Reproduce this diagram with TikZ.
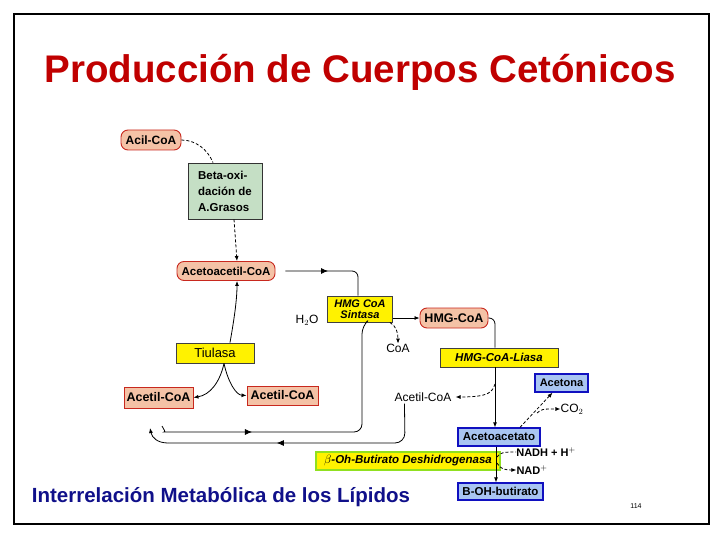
\documentclass[tikz,border=0pt]{standalone}
\usepackage{fontspec}
\setmainfont{Liberation Sans}
\usetikzlibrary{arrows.meta,calc,decorations.markings}
\definecolor{salm}{HTML}{F4C2A6}
\definecolor{redb}{HTML}{C8281E}
\definecolor{lblue}{HTML}{A9C5F2}
\definecolor{dblue}{HTML}{1010C0}
\definecolor{lgreen}{HTML}{C5DFC5}
\definecolor{titred}{HTML}{C00000}
\definecolor{navy}{HTML}{10108A}
\definecolor{ygreen}{HTML}{90E020}
\tikzset{
  pill/.style={rounded corners=7pt, fill=salm, draw=redb, line width=0.9pt, inner sep=0pt, font=\bfseries\fontsize{12}{14}\selectfont},
  sbox/.style={fill=salm, draw=redb, line width=0.9pt, inner sep=0pt, font=\bfseries\fontsize{12.5}{14}\selectfont},
  ybox/.style={fill=yellow, draw=black!75, line width=0.8pt, inner sep=0pt},
  bbox/.style={fill=lblue, draw=dblue, line width=1.3pt, inner sep=0pt, font=\bfseries\fontsize{11.5}{13}\selectfont},
  gbox/.style={fill=lgreen, draw=black!80, line width=0.8pt, inner sep=0pt},
  lbl/.style={inner sep=0pt, font=\fontsize{12}{13}\selectfont},
  conn/.style={line width=0.8pt},
  arr/.style={conn, -{Latex[length=5pt,width=4pt]}},
  dconn/.style={conn, densely dashed},
  darr/.style={dconn, -{Latex[length=5pt,width=4pt]}},
  midarr/.style={conn, postaction=decorate, decoration={markings, mark=at position #1 with {\arrow{Latex[length=7pt,width=6pt]}}}},
}
\begin{document}
\begin{tikzpicture}[x=1pt,y=-1pt]
\useasboundingbox (0,0) rectangle (720,540);
\draw[line width=2pt] (14,14) rectangle (709,524);
% title
\node[text=titred, font=\bfseries\fontsize{38.5}{40}\selectfont, inner sep=0pt] (title) at (360,72) {Producción de Cuerpos Cetónicos};
% bottom caption
\node[text=navy, font=\bfseries\fontsize{20.5}{24}\selectfont, inner sep=0pt] (caption) at (221,497) {Interrelación Metabólica de los Lípidos};
\node[font=\fontsize{7}{8}\selectfont, inner sep=0pt] (pagenum) at (636,506) {114};

% nodes
\node[pill, minimum width=60pt, minimum height=20pt] (acil) at (151,140) {Acil-CoA};
\node[gbox, minimum width=74pt, minimum height=56pt, align=left, font=\bfseries\fontsize{11.5}{16}\selectfont] (beta) at (225,191) {Beta-oxi-\\dación de\\A.Grasos};
\node[pill, minimum width=98pt, minimum height=19pt, font=\bfseries\fontsize{11.5}{13}\selectfont] (acetoacetil) at (226,271) {Acetoacetil-CoA};
\node[ybox, minimum width=65pt, minimum height=26pt, align=center, font=\bfseries\itshape\fontsize{11}{11.5}\selectfont] (sintasa) at (360,309) {HMG CoA\\Sintasa};
\node[lbl] (h2o) at (307,320) {H$_2$O};
\node[pill, minimum width=68pt, minimum height=20pt, font=\bfseries\fontsize{12.5}{14}\selectfont] (hmgcoa) at (454,318) {HMG-CoA};
\node[lbl] (coa) at (398,348) {CoA};
\node[ybox, minimum width=118pt, minimum height=19pt, font=\bfseries\itshape\fontsize{11.5}{12}\selectfont] (liasa) at (499,357.5) {HMG-CoA-Liasa};
\node[ybox, minimum width=78pt, minimum height=20pt, font=\fontsize{13}{14}\selectfont] (tiulasa) at (215,353) {Tiulasa};
\node[sbox, minimum width=69pt, minimum height=21pt] (acetilL) at (158.5,397.5) {Acetil-CoA};
\node[sbox, minimum width=71pt, minimum height=19pt] (acetilR) at (282.5,395.5) {Acetil-CoA};
\node[lbl] (acetil3) at (423,397) {Acetil-CoA};
\node[bbox, minimum width=53pt, minimum height=18pt, font=\bfseries\fontsize{11}{13}\selectfont] (acetona) at (561.5,383) {Acetona};
\node[lbl] (co2) at (572,409) {CO$_2$};
\node[bbox, minimum width=82pt, minimum height=18pt] (acetoacetato) at (499,437) {Acetoacetato};
\node[lbl, font=\bfseries\fontsize{11}{12}\selectfont] (nadh) at (546,452) {NADH + H$^+$};
\node[lbl, font=\bfseries\fontsize{11}{12}\selectfont] (nad) at (532,470) {NAD$^+$};
\node[fill=yellow, draw=ygreen, line width=1.2pt, inner sep=0pt, minimum width=184pt, minimum height=18pt, font=\bfseries\itshape\fontsize{11.5}{12}\selectfont] (deshidro) at (408,461) {$\beta$-Oh-Butirato Deshidrogenasa};
\node[bbox, minimum width=85pt, minimum height=17pt] (bohb) at (500.5,491.5) {B-OH-butirato};

% connectors
\draw[dconn] (acil.east) .. controls (196,140) and (208,150) .. ($(beta.north)+(-12,0)$);
\draw[darr] ($(beta.south)+(9,0)$) -- ($(acetoacetil.north)+(11,0)$);
\draw[arr] ($(tiulasa.north)+(15,0)$) .. controls (234,320) and (237,300) .. ($(acetoacetil.south)+(11,0)$);
\draw[arr] ($(tiulasa.south)+(9,0)$) .. controls (220,382) and (210,395) .. (acetilL.east);
\draw[arr] ($(tiulasa.south)+(9,0)$) .. controls (228,382) and (236,395) .. (acetilR.west);
\draw[midarr=0.45, rounded corners=6pt] ($(acetoacetil.east)+(10,0)$) -- (358,271) -- (sintasa.north -| 358,0);
\draw[arr] ($(sintasa.east)+(0,9)$) -- (hmgcoa.west);
\draw[darr] ($(sintasa.south east)+(-3,0)$) .. controls (396,326) and (398,332) .. (coa.north);
\draw[conn, rounded corners=6pt] (hmgcoa.east) -- (495,318) -- (liasa.north -| 495,0);
\draw[arr] (liasa.south -| 495,0) -- (acetoacetato.north -| 495,0);
\draw[darr] (495,384) .. controls (492,392) and (490,397) .. ($(acetil3.east)+(4,0)$);
\draw[darr] ($(acetoacetato.north)+(21,0)$) -- ($(acetona.south)+(-9,0)$);
\draw[darr] (537,413) .. controls (542,409) .. (co2.west);
\draw[arr] (acetoacetato.south -| 496,0) -- (bohb.north -| 496,0);
\draw[dconn] (497,457) .. controls (500,452) and (505,452) .. (nadh.west);
\draw[darr] (497,463) .. controls (500,469) and (505,470) .. (nad.west);
% recycling loops
\draw[midarr=0.3, rounded corners=8pt] (162,426) .. controls (164,430) and (166,432) .. (172,432) -- (362,432) -- (362,326) -- ($(sintasa.south)+(6,0)$);
\draw[midarr=0.6, rounded corners=10pt] ($(acetil3.south west)+(10,2)$) -- (405,443) -- (168,443);
\draw[arr] (168,443) .. controls (158,443) and (152,438) .. (150,428);
\end{tikzpicture}
\end{document}
